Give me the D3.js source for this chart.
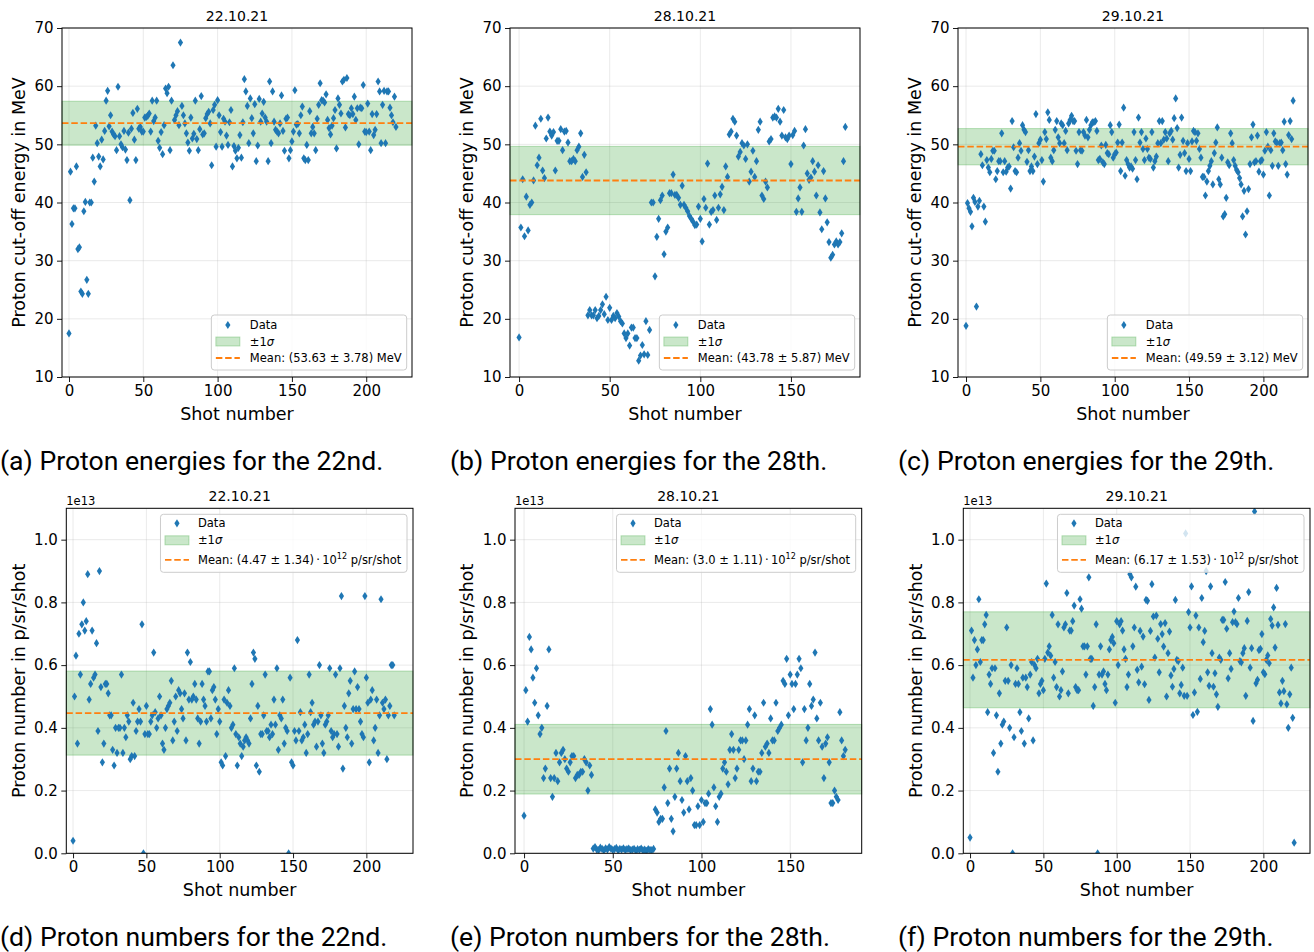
<!DOCTYPE html>
<html>
<head>
<meta charset="utf-8">
<script src="https://cdnjs.cloudflare.com/ajax/libs/d3/7.8.5/d3.min.js"></script>
<style>
  body { margin: 0; background: #fff; }
  svg { display: block; }
  text { font-family: "DejaVu Sans", sans-serif; fill: #000; }
  .caption { font-family: Roboto, sans-serif; font-size: 26.6px; }
</style>
</head>
<body>
<svg id="chart" width="1314" height="952"></svg>
<script>
// proton cut-off energies (MeV), one value per shot
const energy22 = [
  17.5,45.3,36.3,39.0,39.0,46.2,32.0,32.3,24.7,24.3,
  38.5,40.1,26.7,24.3,40.0,40.0,47.7,43.6,53.2,50.2,
  47.9,46.2,50.8,47.4,52.3,57.5,59.2,53.1,55.0,52.2,
  51.7,51.4,49.0,59.9,51.4,50.0,49.5,52.3,49.1,47.3,
  52.0,40.4,52.7,55.4,50.8,47.3,56.1,52.7,53.0,52.2,
  52.2,54.6,54.7,54.9,55.3,52.2,57.5,54.0,54.6,57.5,
  50.6,49.4,52.1,48.3,53.3,59.6,58.8,59.9,49.0,57.5,
  63.6,54.2,55.0,55.7,53.3,67.5,56.6,55.0,53.6,51.9,
  50.3,48.9,54.6,51.0,51.8,57.5,50.9,49.0,52.6,58.3,
  51.7,51.9,54.5,55.2,55.6,53.6,46.4,55.9,56.8,49.6,
  57.6,55.0,52.1,49.6,54.4,53.9,51.5,49.9,53.8,55.9,
  46.2,49.7,48.9,47.6,49.4,51.6,47.7,53.8,61.2,59.1,
  56.6,50.2,57.9,54.5,51.9,56.9,47.1,49.8,57.8,53.9,
  55.3,57.3,54.6,53.9,47.1,60.8,50.2,59.1,53.9,52.5,
  52.2,51.9,53.6,58.4,52.3,48.9,54.4,54.6,47.6,49.0,
  50.5,52.2,59.3,53.4,53.5,51.9,55.0,56.5,47.6,47.3,
  49.9,47.3,55.7,51.9,53.0,51.9,49.0,54.4,56.8,60.5,
  57.6,57.5,57.2,58.6,54.2,52.8,51.7,53.2,54.5,55.9,
  49.3,57.9,56.8,55.3,60.8,61.1,52.9,61.4,55.2,55.0,
  56.2,55.2,58.2,54.2,56.2,50.0,56.3,56.2,60.2,52.2,
  52.1,57.0,52.2,49.0,55.2,51.6,52.5,55.2,60.8,59.1,
  50.2,56.8,59.2,50.2,59.1,59.1,56.3,55.0,53.8,58.2,
  53.0
];
const energy28 = [
  16.8,35.7,44.0,34.2,41.0,35.2,39.6,40.0,43.8,53.2,
  46.4,47.7,54.4,45.5,44.2,51.0,54.6,52.2,51.5,52.1,
  45.5,50.6,50.6,52.6,49.0,52.2,52.3,50.3,47.1,47.1,
  47.5,47.1,49.0,49.6,51.9,44.4,48.2,45.2,20.6,21.5,
  20.6,20.6,21.5,20.1,20.5,21.5,22.5,20.8,23.8,19.8,
  21.9,19.8,20.5,20.1,21.0,20.4,19.6,19.2,17.5,16.7,
  17.5,15.4,18.5,18.5,16.7,16.7,12.8,13.7,15.5,13.9,
  19.6,13.8,18.1,40.0,40.0,27.3,34.1,37.2,40.4,41.2,
  31.1,35.0,35.7,41.6,41.6,44.8,41.3,41.3,40.8,39.6,
  42.9,39.6,39.1,38.5,37.7,37.2,36.7,36.1,36.2,39.3,
  37.2,33.3,40.6,39.1,46.7,36.2,38.4,38.7,41.2,37.0,
  39.1,41.4,42.7,38.7,46.2,44.4,51.7,52.2,54.4,53.9,
  51.5,47.9,48.7,50.2,49.8,47.5,50.0,43.6,45.3,48.9,
  44.4,47.1,52.5,53.9,41.2,40.6,43.6,42.6,50.5,50.9,
  54.6,54.8,54.6,56.1,53.9,51.5,55.9,51.2,50.9,51.5,
  46.6,51.6,52.3,38.4,40.7,42.6,38.4,49.8,52.6,45.0,
  43.9,44.3,47.1,45.3,41.2,46.4,38.3,35.4,45.4,40.7,
  36.6,33.2,30.5,31.0,32.8,33.3,32.8,33.2,34.7,47.1,
  53.0
];
const energy29 = [
  18.8,39.9,39.0,38.4,35.9,40.8,40.1,22.1,39.3,40.3,
  48.3,46.4,39.3,36.7,47.3,46.0,45.2,47.5,48.9,48.9,
  44.0,45.4,47.1,47.1,51.9,45.2,47.1,45.3,46.0,46.2,
  42.4,54.0,49.5,45.4,45.2,47.7,50.2,48.9,53.3,52.5,
  52.1,47.0,49.0,45.4,46.2,45.4,47.9,55.2,46.6,50.2,
  50.8,47.3,43.6,52.1,50.9,55.5,54.2,47.7,47.1,49.0,
  52.5,54.0,51.2,50.2,53.6,53.3,50.2,52.3,49.0,53.6,
  54.2,54.9,54.0,54.0,48.9,46.6,52.1,49.0,48.9,52.1,
  51.5,54.2,51.2,52.5,53.3,53.8,53.8,54.0,52.3,47.3,
  47.5,49.8,46.9,46.6,49.9,48.5,48.3,53.3,52.1,47.7,
  48.3,48.6,50.3,53.4,45.4,50.3,56.3,44.6,47.3,46.6,
  46.0,46.2,45.8,52.1,47.3,44.0,54.6,50.3,52.1,49.2,
  47.3,51.0,49.2,47.7,47.5,52.1,46.0,47.1,47.9,50.2,
  54.0,50.2,54.0,50.8,52.1,51.0,47.1,51.9,52.3,50.8,
  54.5,57.9,52.8,46.0,48.2,54.6,50.6,48.5,45.4,50.2,
  47.5,45.4,50.5,52.3,52.1,50.6,51.9,49.2,47.7,44.4,
  44.4,41.2,43.6,45.4,46.3,47.1,43.1,48.5,50.3,52.9,
  44.0,43.1,47.7,37.6,38.0,40.8,46.9,46.4,51.9,50.2,
  47.3,46.3,45.6,45.2,44.2,43.1,37.6,42.0,34.5,38.5,
  42.3,46.6,51.2,53.4,46.9,47.1,51.5,45.3,47.1,47.3,
  44.8,48.9,52.1,49.6,41.2,49.0,46.3,51.9,50.5,50.3,
  46.3,50.2,50.3,49.0,53.9,46.6,44.8,51.6,54.0,50.9,
  57.5
];

// proton numbers (units of 1e13 p/sr/shot), one value per shot
const number22 = [
  0.04,0.50,0.63,0.35,0.70,0.57,0.73,0.80,0.71,0.74,
  0.89,0.49,0.54,0.71,0.56,0.57,0.67,0.39,0.90,0.53,
  0.29,0.35,0.54,0.54,0.51,0.44,0.44,0.33,0.28,0.40,
  0.32,0.40,0.40,0.57,0.32,0.40,0.37,0.44,0.42,0.30,
  0.31,0.48,0.31,0.39,0.42,0.46,0.42,0.73,0.00,0.38,
  0.47,0.38,0.38,0.42,0.44,0.64,0.45,0.40,0.43,0.50,
  0.44,0.35,0.33,0.40,0.46,0.47,0.48,0.55,0.36,0.42,
  0.50,0.39,0.52,0.51,0.46,0.43,0.51,0.36,0.64,0.49,
  0.61,0.49,0.50,0.54,0.49,0.43,0.35,0.42,0.54,0.49,
  0.47,0.42,0.58,0.58,0.43,0.52,0.53,0.49,0.38,0.46,
  0.42,0.29,0.28,0.49,0.31,0.48,0.52,0.47,0.40,0.41,
  0.59,0.38,0.28,0.37,0.35,0.31,0.34,0.36,0.37,0.36,
  0.35,0.43,0.54,0.64,0.62,0.28,0.47,0.26,0.38,0.38,
  0.44,0.57,0.39,0.39,0.37,0.41,0.38,0.49,0.41,0.59,
  0.33,0.44,0.43,0.49,0.35,0.40,0.39,0.00,0.56,0.29,
  0.28,0.39,0.36,0.68,0.39,0.45,0.36,0.37,0.41,0.32,
  0.38,0.57,0.45,0.48,0.41,0.42,0.34,0.42,0.60,0.44,
  0.35,0.32,0.41,0.42,0.44,0.59,0.39,0.37,0.38,0.57,
  0.38,0.34,0.59,0.82,0.27,0.47,0.40,0.37,0.51,0.55,
  0.35,0.46,0.58,0.46,0.53,0.46,0.42,0.38,0.37,0.82,
  0.56,0.48,0.29,0.49,0.52,0.36,0.40,0.49,0.32,0.44,
  0.81,0.48,0.46,0.49,0.30,0.44,0.47,0.60,0.60,0.44
];
const number28 = [
  0.12,0.52,0.42,0.69,0.65,0.56,0.48,0.59,0.44,0.38,
  0.40,0.24,0.27,0.47,0.65,0.24,0.18,0.24,0.32,0.23,
  0.29,0.32,0.33,0.30,0.27,0.26,0.29,0.31,0.31,0.24,
  0.25,0.25,0.26,0.26,0.30,0.29,0.20,0.28,0.25,
  0.015,0.02,0.012,0.01,0.018,0.014,0.01,0.016,0.012,0.02,
  0.015,0.011,0.013,0.017,0.01,0.014,0.012,0.016,0.011,0.013,
  0.015,0.01,0.012,0.014,0.009,0.013,0.011,0.015,0.01,0.012,
  0.008,0.013,0.011,0.01,0.014,
  0.14,0.13,0.10,0.11,0.11,0.21,0.39,0.16,0.27,0.11,
  0.07,0.18,0.27,0.32,0.23,0.17,0.13,
  0.31,0.23,0.14,0.24,0.20,0.09,0.09,0.15,0.09,0.17,
  0.10,0.16,0.16,0.19,0.46,0.41,0.21,0.15,0.10,0.18,
  0.19,0.27,0.29,0.26,0.22,0.33,0.38,0.33,0.24,0.27,
  0.33,0.36,0.36,0.30,0.36,0.41,0.46,0.23,0.27,0.44,
  0.23,0.26,0.26,0.32,0.48,0.34,0.35,0.32,0.43,0.36,
  0.36,0.48,0.39,0.40,0.41,0.55,0.54,0.62,0.44,0.57,
  0.54,0.46,0.54,0.57,0.62,0.59,0.29,0.46,0.36,0.40,
  0.54,0.47,0.49,0.64,0.43,0.36,0.48,0.34,0.24,0.35,
  0.37,0.29,0.16,0.16,0.20,0.18,0.17,0.45,0.36,0.31,0.33
];
const number29 = [
  0.05,0.71,0.56,0.68,0.60,0.65,0.81,0.61,0.68,
  0.68,0.73,0.76,0.45,0.57,0.54,0.59,0.32,0.59,0.44,
  0.26,0.51,0.35,0.41,0.42,0.55,0.72,0.55,0.40,
  0.60,0.00,0.37,0.54,0.59,0.54,0.45,0.39,0.56,
  0.35,0.56,0.53,0.43,0.57,0.61,0.36,0.60,0.59,
  0.62,0.51,0.54,0.55,0.52,0.62,0.86,0.64,0.66,
  0.63,0.76,0.56,0.61,0.53,0.73,0.50,0.52,0.58,
  0.72,0.73,0.83,0.51,0.71,0.71,0.74,0.79,0.53,
  0.52,0.52,0.81,0.78,0.66,0.66,0.57,0.66,0.88,0.62,
  0.62,0.47,0.53,0.73,0.00,0.57,0.66,0.57,0.58,
  0.54,0.52,0.57,0.65,0.68,0.69,0.67,0.48,0.74,
  0.60,0.73,0.74,0.71,0.65,0.62,0.53,0.57,0.89,
  0.88,0.66,0.72,0.85,
  0.585,0.545,0.709,0.595,0.691,0.539,0.808,0.805,0.489,
  0.709,0.858,0.755,0.624,0.758,0.684,0.577,0.731,0.699,0.659,
  0.734,0.500,0.638,0.707,0.567,0.531,0.588,0.808,0.617,0.613,
  0.510,0.537,0.592,0.502,1.02,0.502,0.769,0.720,0.851,
  0.441,0.513,0.758,0.451,0.720,0.556,0.814,0.673,0.709,0.90,
  0.577,0.534,0.851,0.638,0.531,0.574,0.507,0.467,0.624,0.617,
  0.744,0.744,0.865,0.716,0.558,0.638,0.588,0.737,0.771,0.737,
  0.731,0.814,0.613,0.609,0.638,0.654,0.502,0.741,0.833,0.592,
  0.654,0.422,1.09,0.542,0.553,0.648,0.652,0.699,0.577,
  0.571,0.617,0.631,0.606,0.747,0.726,0.784,0.656,
  0.846,0.728,0.513,0.478,0.550,0.517,0.731,0.475,0.400,
  0.507,0.592,0.432,0.034
];

const dates = ['22.10.21', '28.10.21', '29.10.21'];
const energyMean = [53.63, 43.78, 49.59];
const energySigma = [3.78, 5.87, 3.12];
const numberMeanText = ['4.47', '3.0', '6.17'];     // 10^12 p/sr/shot
const numberSigmaText = ['1.34', '1.11', '1.53'];
const energyTicks = [10, 20, 30, 40, 50, 60, 70];
const numberTicks = [0, 0.2, 0.4, 0.6, 0.8, 1.0];
const shotTicksLong = [0, 50, 100, 150, 200];
const shotTicksShort = [0, 50, 100, 150];
const captionsTop = ['(a) Proton energies for the 22nd.', '(b) Proton energies for the 28th.', '(c) Proton energies for the 29th.'];
const captionsBottom = ['(d) Proton numbers for the 22nd.', '(e) Proton numbers for the 28th.', '(f) Proton numbers for the 29th.'];

const svg = d3.select('#chart');
const diamond = 'M0,-4.1L2.6,0L0,4.1L-2.6,0Z';
const blue = '#1f77b4', orange = '#ff7f0e', green = '#2ca02c';

function styleAxis(sel) {
  sel.select('.domain').remove();
  sel.selectAll('.tick line').style('stroke', '#000').style('stroke-width', 0.9);
  sel.selectAll('.tick text').style('font-family', '"DejaVu Sans", sans-serif').style('font-size', '15px').style('fill', '#000');
}

function drawPanel(p, idx) {
  const right = p.left + p.width;
  const bottom = p.top + p.height;
  const x = d3.scaleLinear().domain(p.xDomain).range([p.left, right]);
  const y = d3.scaleLinear().domain(p.yDomain).range([bottom, p.top]);
  const g = svg.append('g');

  const clipId = 'clip' + idx;
  g.append('clipPath').attr('id', clipId).append('rect')
    .attr('x', p.left).attr('y', p.top).attr('width', p.width).attr('height', p.height);

  // grid
  g.selectAll('.gx').data(p.xTicks).enter().append('line')
    .attr('x1', d => x(d)).attr('x2', d => x(d)).attr('y1', p.top).attr('y2', bottom)
    .style('stroke', '#b0b0b0').style('stroke-opacity', 0.3).style('stroke-width', 0.9);
  g.selectAll('.gy').data(p.yTicks).enter().append('line')
    .attr('y1', d => y(d)).attr('y2', d => y(d)).attr('x1', p.left).attr('x2', right)
    .style('stroke', '#b0b0b0').style('stroke-opacity', 0.3).style('stroke-width', 0.9);

  // +-1 sigma band
  g.append('rect')
    .attr('x', p.left).attr('width', p.width)
    .attr('y', y(p.mean + p.sigma))
    .attr('height', y(p.mean - p.sigma) - y(p.mean + p.sigma))
    .style('fill', green).style('fill-opacity', 0.25)
    .style('stroke', green).style('stroke-opacity', 0.3);

  // data
  g.append('g').attr('clip-path', `url(#${clipId})`)
    .selectAll('path').data(p.values).enter().append('path')
    .attr('d', diamond)
    .attr('transform', (d, i) => `translate(${x(i)},${y(d)})`)
    .style('fill', blue);

  // mean
  g.append('line')
    .attr('x1', p.left).attr('x2', right).attr('y1', y(p.mean)).attr('y2', y(p.mean))
    .style('stroke', orange).style('stroke-width', 1.8).style('stroke-dasharray', '6.5,2.8');

  // axes
  g.append('g').attr('transform', `translate(0,${bottom})`)
    .call(d3.axisBottom(x).tickValues(p.xTicks).tickSize(5).tickPadding(3.5))
    .call(styleAxis);
  g.append('g').attr('transform', `translate(${p.left},0)`)
    .call(d3.axisLeft(y).tickValues(p.yTicks).tickSize(5).tickPadding(3.5).tickFormat(p.yFormat))
    .call(styleAxis);

  g.append('rect')
    .attr('x', p.left).attr('y', p.top).attr('width', p.width).attr('height', p.height)
    .style('fill', 'none').style('stroke', '#000').style('stroke-width', 1);

  // labels
  g.append('text').attr('x', p.left + p.width / 2).attr('y', p.top - 7)
    .attr('text-anchor', 'middle').style('font-size', '14px').text(p.title);
  g.append('text').attr('x', p.left + p.width / 2).attr('y', bottom + 42.5)
    .attr('text-anchor', 'middle').style('font-size', '17.5px').text('Shot number');
  g.append('text')
    .attr('transform', `translate(${p.left - p.yLabelOffset},${p.top + p.height / 2}) rotate(-90)`)
    .attr('text-anchor', 'middle').style('font-size', '17.5px').text(p.yLabel);
  if (p.offsetText) {
    g.append('text').attr('x', p.left).attr('y', p.top - 3.5)
      .style('font-size', '11.5px').text(p.offsetText);
  }

  // legend
  const L = p.legend;
  const lg = g.append('g');
  const box = lg.append('rect').attr('rx', 3).attr('ry', 3)
    .style('fill', '#fff').style('fill-opacity', 0.8)
    .style('stroke', '#cccccc').style('stroke-width', 1);
  lg.append('path').attr('d', diamond)
    .attr('transform', `translate(${L.handleX},${L.rows[0]})`).style('fill', blue);
  lg.append('rect').attr('x', L.handleX - 12).attr('y', L.rows[1] - 4.5).attr('width', 24).attr('height', 9)
    .style('fill', green).style('fill-opacity', 0.25).style('stroke', green).style('stroke-opacity', 0.3);
  lg.append('line').attr('x1', L.handleX - 12).attr('x2', L.handleX + 12)
    .attr('y1', L.rows[2]).attr('y2', L.rows[2])
    .style('stroke', orange).style('stroke-width', 1.8).style('stroke-dasharray', '6.5,2.8');

  const t1 = lg.append('text').attr('x', L.textX).attr('y', L.rows[0] + 4).style('font-size', '11.5px').text('Data');
  const t2 = lg.append('text').attr('x', L.textX).attr('y', L.rows[1] + 4).style('font-size', '11.5px');
  t2.append('tspan').text('\u00b11');
  t2.append('tspan').style('font-style', 'italic').text('\u03c3');
  const t3 = lg.append('text').attr('x', L.textX).attr('y', L.rows[2] + 4).style('font-size', '11.5px');
  L.meanText(t3);

  const tw = d3.max([t1, t2, t3], t => t.node().getComputedTextLength());
  const w = L.textX + tw + L.padRight;
  box.attr('width', w).attr('height', L.height);
  const x0 = right - L.marginRight - w;
  const y0 = L.anchor === 'bottom' ? bottom - L.marginBottom - L.height : p.top + L.marginTop;
  lg.attr('transform', `translate(${x0},${y0})`);
}

const topLefts = [62, 510, 958];
const energySets = [energy22, energy28, energy29];
const energyXDomains = [[-4.7, 230.8], [-5.0, 188.1], [-5.4, 230.0]];
const bottomLefts = [66.3, 515, 963.3];
const numberSets = [number22, number28, number29];
const numberXDomains = [[-4.6, 231.8], [-5.1, 190.3], [-4.6, 231.8]];

for (let i = 0; i < 3; i++) {
  drawPanel({
    left: topLefts[i], top: 28, width: 350, height: 349,
    xDomain: energyXDomains[i], yDomain: [10, 70],
    xTicks: i === 1 ? shotTicksShort : shotTicksLong, yTicks: energyTicks,
    yFormat: d3.format('d'),
    values: energySets[i], mean: energyMean[i], sigma: energySigma[i],
    title: dates[i], yLabel: 'Proton cut-off energy in MeV', yLabelOffset: 37.5,
    legend: {
      anchor: 'bottom', marginRight: 5.3, marginBottom: 7, height: 55,
      rows: [10, 26.5, 43], handleX: 16.5, textX: 38.5, padRight: 5,
      meanText: t => t.text(`Mean: (${energyMean[i].toFixed(2)} \u00b1 ${energySigma[i].toFixed(2)}) MeV`)
    }
  }, i);

  drawPanel({
    left: bottomLefts[i], top: 508.3, width: 346.7, height: 345,
    xDomain: numberXDomains[i], yDomain: [0, 1.1],
    xTicks: i === 1 ? shotTicksShort : shotTicksLong, yTicks: numberTicks,
    yFormat: d3.format('.1f'),
    values: numberSets[i], mean: +numberMeanText[i] / 10, sigma: +numberSigmaText[i] / 10,
    title: dates[i], yLabel: 'Proton number in p/sr/shot', yLabelOffset: 41.8,
    offsetText: '1e13',
    legend: {
      anchor: 'top', marginRight: 6, marginTop: 6, height: 58,
      rows: [9, 26, 45.5], handleX: 16.5, textX: 37.5, padRight: 5.7,
      meanText: t => {
        t.append('tspan').text(`Mean: (${numberMeanText[i]} \u00b1 ${numberSigmaText[i]})\u2009\u00b7\u200910`);
        t.append('tspan').attr('dy', -5).style('font-size', '8px').text('12');
        t.append('tspan').attr('dy', 5).text(' p/sr/shot');
      }
    }
  }, i + 3);
}

// sub-figure captions
const capX = [0, 450, 898];
svg.selectAll('.capTop').data(captionsTop).enter().append('text')
  .attr('class', 'caption').attr('x', (d, i) => capX[i]).attr('y', 470).text(d => d);
svg.selectAll('.capBottom').data(captionsBottom).enter().append('text')
  .attr('class', 'caption').attr('x', (d, i) => capX[i]).attr('y', 946).text(d => d);
</script>
</body>
</html>
